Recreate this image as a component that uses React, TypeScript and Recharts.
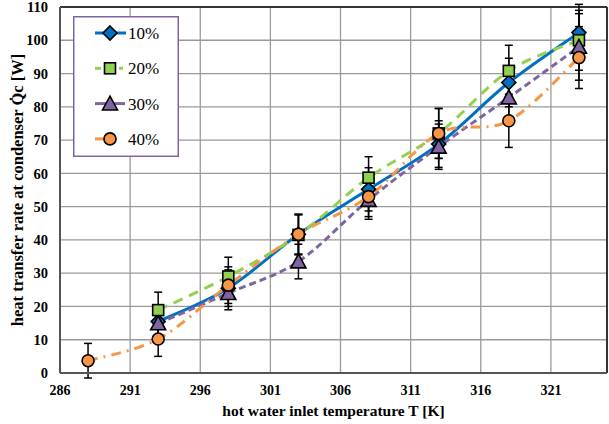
import React from 'react';
import {
  LineChart,
  Line,
  XAxis,
  YAxis,
  CartesianGrid,
  ErrorBar,
  Legend,
  ReferenceLine,
} from 'recharts';

// hot water inlet temperature [K]
const temps = [288, 293, 298, 303, 308, 313, 318, 323];

// heat transfer rate at condenser [W], one array per filling ratio
const q10 = [null, 15.5, 25.5, 41.7, 55.2, 68.8, 87.3, 102.3];
const q20 = [null, 18.9, 29.0, 41.5, 58.7, 72.0, 90.8, 100.0];
const q30 = [null, 14.9, 24.0, 33.5, 52.0, 68.0, 82.8, 98.0];
const q40 = [3.7, 10.2, 26.4, 41.7, 53.0, 72.0, 75.8, 94.8];

// error bar half-lengths [W]
const e10 = [null, 5.0, 5.5, 6.0, 6.5, 7.0, 7.3, 8.5];
const e20 = [null, 5.4, 5.8, 6.0, 6.3, 7.5, 7.7, 9.0];
const e30 = [null, 5.0, 5.0, 5.2, 5.8, 6.8, 7.5, 10.0];
const e40 = [5.2, 5.2, 5.5, 6.0, 6.0, 7.5, 8.0, 9.3];

const xTicks = [286, 291, 296, 301, 306, 311, 316, 321];
const yTicks = [0, 10, 20, 30, 40, 50, 60, 70, 80, 90, 100, 110];

const labels = ['10%', '20%', '30%', '40%'];

const BLUE = '#0070C0';
const GREEN = '#92D050';
const PURPLE = '#8064A2';
const ORANGE = '#F79646';

const rows = temps.map((t, i) => ({
  T: t,
  s10: q10[i],
  s20: q20[i],
  s30: q30[i],
  s40: q40[i],
  e10: e10[i],
  e20: e20[i],
  e30: e30[i],
  e40: e40[i],
}));

const SERIF = '"Liberation Serif", "Times New Roman", serif';

const tickFont = {
  fontFamily: SERIF,
  fontWeight: 'bold' as const,
  fontSize: 14,
  fill: '#000',
};

// spreadsheet-style smoothed line (Catmull-Rom through every point)
const smoothCurve = (context: any) => {
  let pts: number[][] = [];
  return {
    areaStart() {},
    areaEnd() {},
    lineStart() {
      pts = [];
    },
    point(x: number, y: number) {
      pts.push([+x, +y]);
    },
    lineEnd() {
      const n = pts.length;
      if (!n) return;
      context.moveTo(pts[0][0], pts[0][1]);
      for (let i = 0; i < n - 1; i++) {
        const p0 = pts[Math.max(i - 1, 0)];
        const p1 = pts[i];
        const p2 = pts[i + 1];
        const p3 = pts[Math.min(i + 2, n - 1)];
        context.bezierCurveTo(
          p1[0] + (p2[0] - p0[0]) / 6,
          p1[1] + (p2[1] - p0[1]) / 6,
          p2[0] - (p3[0] - p1[0]) / 6,
          p2[1] - (p3[1] - p1[1]) / 6,
          p2[0],
          p2[1],
        );
      }
    },
  };
};

type Shape = 'diamond' | 'square' | 'triangle' | 'circle';

const marker = (shape: Shape, fill: string, cx: number, cy: number, key?: any) => {
  const sw = 1.6;
  if (shape === 'diamond') {
    const r = 7;
    return (
      <path key={key} d={`M${cx},${cy - r}L${cx + r},${cy}L${cx},${cy + r}L${cx - r},${cy}Z`}
        fill={fill} stroke="#000" strokeWidth={sw} />
    );
  }
  if (shape === 'square') {
    const r = 5.5;
    return <rect key={key} x={cx - r} y={cy - r} width={r * 2} height={r * 2} fill={fill} stroke="#000" strokeWidth={sw} />;
  }
  if (shape === 'triangle') {
    const r = 7.5;
    return (
      <path key={key} d={`M${cx},${cy - r}L${cx + r},${cy + r * 0.85}L${cx - r},${cy + r * 0.85}Z`}
        fill={fill} stroke="#000" strokeWidth={sw} />
    );
  }
  return <circle key={key} cx={cx} cy={cy} r={6} fill={fill} stroke="#000" strokeWidth={sw} />;
};

const dotFor = (shape: Shape, fill: string) => (props: any) => {
  const { cx, cy, index, value } = props;
  if (value == null || cx == null || cy == null || isNaN(cy)) return <g key={`n${index}`} />;
  return marker(shape, fill, cx, cy, `d${index}`);
};

const legendItems = [
  { label: labels[0], color: BLUE, shape: 'diamond' as Shape, segs: [[22, 53]] },
  { label: labels[1], color: GREEN, shape: 'square' as Shape, segs: [[22, 28], [46, 50]] },
  { label: labels[2], color: PURPLE, shape: 'triangle' as Shape, segs: [[22, 52]] },
  { label: labels[3], color: ORANGE, shape: 'circle' as Shape, segs: [[22, 32]] },
];

const LegendBox = () => (
  <svg width={106} height={141} style={{ display: 'block' }}>
    <rect x={0.75} y={0.75} width={104.5} height={139.5} fill="#fff" stroke={PURPLE} strokeWidth={1.5} />
    {legendItems.map((it, i) => {
      const y = 17 + i * 35.3;
      return (
        <g key={it.label}>
          {it.segs.map((s, j) => (
            <line key={j} x1={s[0]} x2={s[1]} y1={y} y2={y} stroke={it.color} strokeWidth={3} />
          ))}
          {marker(it.shape, it.color, 37, y)}
          <text x={55} y={y + 6} fontFamily={SERIF} fontSize={17} fill="#000">
            {it.label}
          </text>
        </g>
      );
    })}
  </svg>
);

export default function App() {
  return (
    <div style={{ width: 609, height: 424, background: '#fff' }}>
      <style>{'body{margin:0;}'}</style>
      <LineChart width={609} height={424} data={rows} margin={{ top: 7, right: 2, bottom: 0, left: 15 }}>
        <CartesianGrid stroke="#9a9a9a" strokeWidth={1.3} />
        <XAxis
          dataKey="T"
          type="number"
          domain={[286, 325]}
          ticks={xTicks}
          interval={0}
          allowDataOverflow
          height={51}
          tickLine={false}
          tickSize={0}
          tickMargin={12}
          tick={tickFont}
          axisLine={{ stroke: '#555', strokeWidth: 2 }}
          label={{
            value: 'hot water inlet temperature T [K]',
            position: 'insideBottom',
            offset: 8,
            style: { ...tickFont, fontSize: 15.5 },
          }}
        />
        <YAxis
          type="number"
          domain={[0, 110]}
          ticks={yTicks}
          interval={0}
          allowDataOverflow
          width={45}
          tickLine={false}
          tickSize={0}
          tickMargin={12}
          tick={{ ...tickFont, fontSize: 14.5 }}
          axisLine={{ stroke: '#555', strokeWidth: 2 }}
          label={{
            value: 'heat transfer rate at condenser Q\u0307c [W]',
            angle: -90,
            position: 'center',
            dx: -20,
            style: { ...tickFont, fontSize: 16.5, textAnchor: 'middle' },
          }}
        />
        <ReferenceLine y={110} stroke="#333" strokeWidth={2} ifOverflow="extendDomain" />
        <ReferenceLine x={325} stroke="#333" strokeWidth={2} ifOverflow="extendDomain" />
        <Line dataKey="s10" type={smoothCurve as any} stroke={BLUE} strokeWidth={3} dot={dotFor('diamond', BLUE)}
          activeDot={false} isAnimationActive={false}>
          <ErrorBar dataKey="e10" width={4} stroke="#000" strokeWidth={1.5} direction="y" />
        </Line>
        <Line dataKey="s20" type={smoothCurve as any} stroke={GREEN} strokeWidth={3} strokeDasharray="10 7"
          dot={dotFor('square', GREEN)} activeDot={false} isAnimationActive={false}>
          <ErrorBar dataKey="e20" width={4} stroke="#000" strokeWidth={1.5} direction="y" />
        </Line>
        <Line dataKey="s30" type={smoothCurve as any} stroke={PURPLE} strokeWidth={3} strokeDasharray="7 4"
          dot={dotFor('triangle', PURPLE)} activeDot={false} isAnimationActive={false}>
          <ErrorBar dataKey="e30" width={4} stroke="#000" strokeWidth={1.5} direction="y" />
        </Line>
        <Line dataKey="s40" type={smoothCurve as any} stroke={ORANGE} strokeWidth={3} strokeDasharray="10 6 2 6"
          dot={dotFor('circle', ORANGE)} activeDot={false} isAnimationActive={false}>
          <ErrorBar dataKey="e40" width={4} stroke="#000" strokeWidth={1.5} direction="y" />
        </Line>
        <Legend
          layout="vertical"
          align="center"
          verticalAlign="middle"
          content={() => <LegendBox />}
          wrapperStyle={{ left: 73, top: 16, width: 106, height: 141 }}
        />
      </LineChart>
    </div>
  );
}
